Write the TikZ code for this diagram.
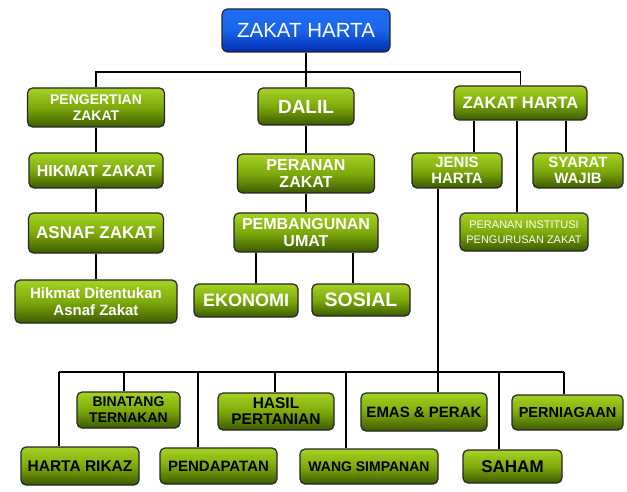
\documentclass[tikz,border=0pt]{standalone}
\usepackage{fontspec}
\setmainfont{Liberation Sans}

\definecolor{gtop}{RGB}{165,210,35}
\definecolor{gmid}{RGB}{125,170,10}
\definecolor{gbot}{RGB}{60,90,0}
\definecolor{btop}{RGB}{30,110,245}
\definecolor{bbot}{RGB}{0,45,175}

\tikzset{
    box/.style={draw=black!85, line width=1.2pt, rounded corners=5pt,
        top color=gtop, bottom color=gbot, middle color=gmid,
        text=white, align=center, inner sep=0pt},
    darkbox/.style={box, text=black},
    headbox/.style={draw=black!85, line width=1.2pt, rounded corners=6pt,
        top color=btop, bottom color=bbot, middle color=btop!85!bbot,
        text=white, align=center, inner sep=0pt},
    link/.style={line width=1.5pt}
}

\begin{document}
\begin{tikzpicture}[x=1pt, y=-1pt]
    \useasboundingbox (0,0) rectangle (627,492);

    % Heading
    \node[headbox, minimum width=168pt, minimum height=43pt, font=\fontsize{20.5}{22}\selectfont] (top) at (306,30.5) {ZAKAT HARTA};

    % Left column
    \node[box, minimum width=137pt, minimum height=39pt, font=\bfseries\fontsize{14}{16}\selectfont] (peng) at (96,107.5) {PENGERTIAN\\ZAKAT};
    \node[box, minimum width=134pt, minimum height=35pt, font=\bfseries\fontsize{16}{18}\selectfont] (hikmat) at (96,170.5) {HIKMAT ZAKAT};
    \node[box, minimum width=135pt, minimum height=40pt, font=\bfseries\fontsize{17}{19}\selectfont] (asnaf) at (96,233) {ASNAF ZAKAT};
    \node[box, minimum width=162pt, minimum height=43pt, font=\bfseries\fontsize{15}{17}\selectfont] (hikdit) at (96,301.5) {Hikmat Ditentukan\\Asnaf Zakat};

    % Middle column
    \node[box, minimum width=96pt, minimum height=37pt, font=\bfseries\fontsize{19}{21}\selectfont] (dalil) at (306,106.5) {DALIL};
    \node[box, minimum width=137pt, minimum height=39pt, font=\bfseries\fontsize{16}{17}\selectfont] (peranan) at (306,173.5) {PERANAN\\ZAKAT};
    \node[box, minimum width=144pt, minimum height=39pt, font=\bfseries\fontsize{16}{17}\selectfont] (pemb) at (306,232.5) {PEMBANGUNAN\\UMAT};
    \node[box, minimum width=104pt, minimum height=33pt, font=\bfseries\fontsize{18}{20}\selectfont] (ekonomi) at (246,300.5) {EKONOMI};
    \node[box, minimum width=98pt, minimum height=32pt, font=\bfseries\fontsize{19.5}{21}\selectfont] (sosial) at (361,300) {SOSIAL};

    % Right column
    \node[box, minimum width=133pt, minimum height=34pt, font=\bfseries\fontsize{16.5}{18}\selectfont] (zh) at (520.5,103) {ZAKAT HARTA};
    \node[box, minimum width=90pt, minimum height=35pt, font=\bfseries\fontsize{15}{16}\selectfont] (jenis) at (457,170.5) {JENIS\\HARTA};
    \node[box, minimum width=90pt, minimum height=35pt, font=\bfseries\fontsize{15}{16}\selectfont] (syarat) at (578,170.5) {SYARAT\\WAJIB};
    \node[box, minimum width=128pt, minimum height=38pt, font=\fontsize{11}{15}\selectfont] (peri) at (524,232) {PERANAN INSTITUSI\\PENGURUSAN ZAKAT};

    % Jenis harta, upper row
    \node[darkbox, minimum width=103pt, minimum height=36pt, font=\bfseries\fontsize{14}{16}\selectfont] (binatang) at (128.5,410) {BINATANG\\TERNAKAN};
    \node[darkbox, minimum width=116pt, minimum height=37pt, font=\bfseries\fontsize{15.5}{16}\selectfont] (hasil) at (276,411.5) {HASIL\\PERTANIAN};
    \node[darkbox, minimum width=126pt, minimum height=38pt, font=\bfseries\fontsize{15}{17}\selectfont] (emas) at (424,412) {EMAS \& PERAK};
    \node[darkbox, minimum width=111pt, minimum height=35pt, font=\bfseries\fontsize{14.5}{17}\selectfont] (perniagaan) at (567.5,412.5) {PERNIAGAAN};

    % Jenis harta, lower row
    \node[darkbox, minimum width=118pt, minimum height=38pt, font=\bfseries\fontsize{15.5}{17}\selectfont] (rikaz) at (80,466) {HARTA RIKAZ};
    \node[darkbox, minimum width=117pt, minimum height=36pt, font=\bfseries\fontsize{15}{17}\selectfont] (pendapatan) at (218.5,466) {PENDAPATAN};
    \node[darkbox, minimum width=138pt, minimum height=35pt, font=\bfseries\fontsize{14}{17}\selectfont] (wang) at (369,466.5) {WANG SIMPANAN};
    \node[darkbox, minimum width=99pt, minimum height=33pt, font=\bfseries\fontsize{17}{18}\selectfont] (saham) at (512.5,466.5) {SAHAM};

    % Links from the heading
    \coordinate (hub) at (306,72);
    \draw[link] (top) -- (dalil) -- (peranan) -- (pemb);
    \draw[link] (peng.north) |- (hub) -| (zh.north);
    \draw[link] (peng) -- (hikmat) -- (asnaf) -- (hikdit);

    % Links below pembangunan and zakat harta
    \foreach \n/\x in {ekonomi/256, sosial/353} {
        \coordinate (p\n) at (\x,0);
        \draw[link] (p\n |- pemb.south) -- (p\n |- \n.north);
    }
    \foreach \n/\x in {jenis/474, peri/517, syarat/566} {
        \coordinate (z\n) at (\x,0);
        \draw[link] (z\n |- zh.south) -- (z\n |- \n.north);
    }

    % Bus for the kinds of wealth
    \foreach \n/\x in {rikaz/59, binatang/124, pendapatan/198, hasil/275, wang/346, emas/438, saham/499, perniagaan/564} {
        \coordinate (d\n) at (\x,372);
        \draw[link] (d\n) -- (d\n |- \n.north);
    }
    \draw[link] (drikaz) -- (dperniagaan);
    \draw[link] (demas |- jenis.south) -- (demas);
\end{tikzpicture}
\end{document}
